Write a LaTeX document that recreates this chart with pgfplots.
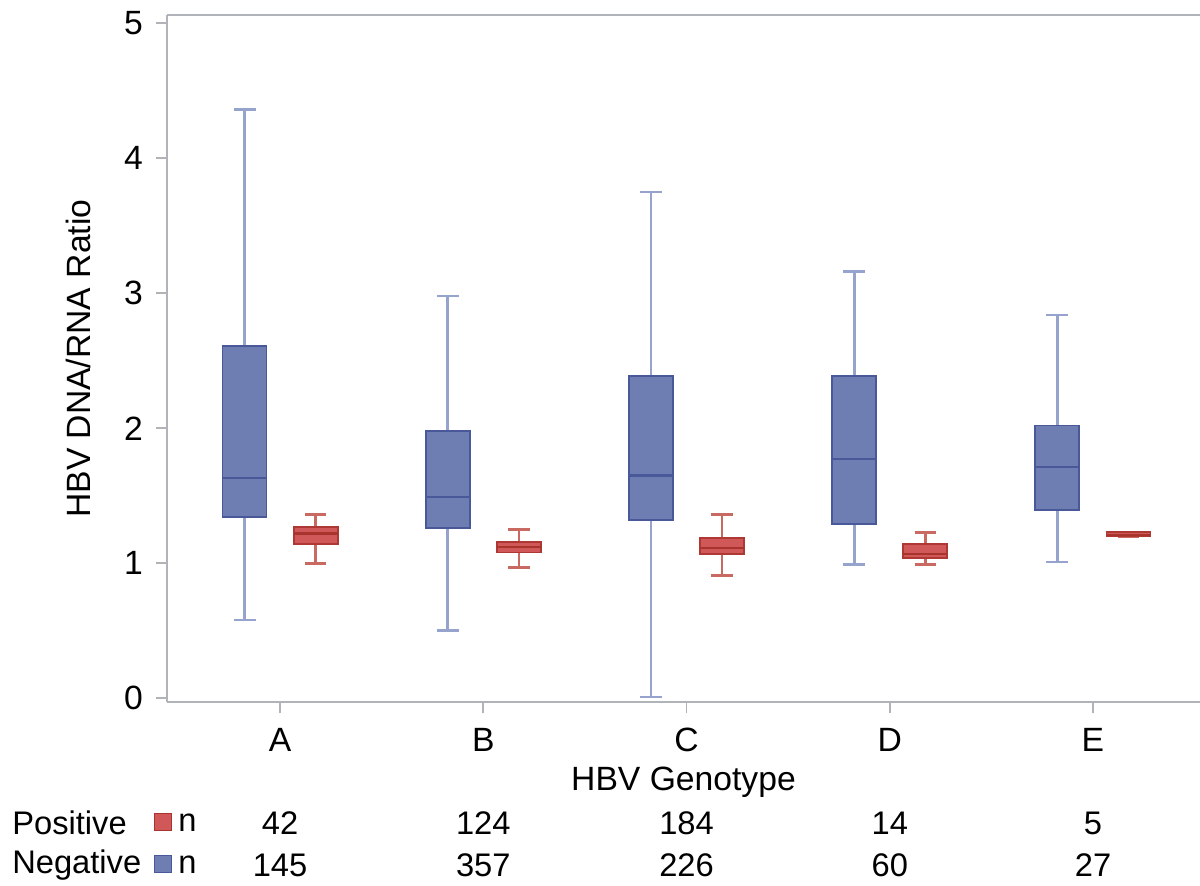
\documentclass[border=0pt]{standalone}
\usepackage{fontspec}
\setmainfont{Liberation Sans}
\usepackage{pgfplots}
\pgfplotsset{compat=1.18}
\usepgfplotslibrary{statistics}
\definecolor{bfill}{RGB}{111,126,178}
\definecolor{bborder}{RGB}{72,88,152}
\definecolor{bwhisk}{RGB}{150,164,205}
\definecolor{rfill}{RGB}{208,88,88}
\definecolor{rborder}{RGB}{168,52,46}
\definecolor{rwhisk}{RGB}{200,105,98}
\definecolor{axisgray}{RGB}{176,180,184}
\pgfplotsset{
  bluebox/.style={boxplot/draw direction=y,
    boxplot/every box/.style={draw=bborder, fill=bfill, line width=1.1pt},
    boxplot/every whisker/.style={draw=bwhisk, line width=1.6pt},
    boxplot/every median/.style={draw=bborder, line width=1.3pt}, mark=none},
  redbox/.style={boxplot/draw direction=y,
    boxplot/every box/.style={draw=rborder!85!rfill, fill=rfill, line width=1.1pt},
    boxplot/every whisker/.style={draw=rwhisk, line width=1.6pt},
    boxplot/every median/.style={draw=rborder, line width=1.3pt}, mark=none},
}
\newcommand{\chartfont}{\fontsize{20.2}{24}\selectfont}
\newcommand{\tablefont}{\fontsize{19.6}{24}\selectfont}
\begin{document}
\chartfont
\begin{tikzpicture}
\useasboundingbox (0pt,0pt) rectangle (720pt,531.6pt);
\begin{axis}[
  at={(100.2pt,110.22pt)}, anchor=south west,
  scale only axis, width=619.8pt, height=412.4pt,
  xmin=0.4433, xmax=5.527, ymin=-0.03, ymax=5.062,
  axis lines*=left,
  axis line style={draw=axisgray, line width=1pt, -},
  tick style={draw=axisgray, line width=1pt},
  tick align=outside, major tick length=6.6pt,
  xtick={1,2,3,4,5}, xticklabels={A,B,C,D,E},
  ytick={0,1,2,3,4,5},
  /pgf/number format/assume math mode=true,
  ticklabel style={font=\chartfont},
  xticklabel style={yshift=-2pt},
  yticklabel style={xshift=-1pt},
  label style={font=\chartfont},
  xlabel={HBV Genotype},
  ylabel={HBV DNA/RNA Ratio},
  xlabel style={yshift=4.5pt},
  ylabel style={yshift=6pt},
  clip=false,
]
% Negative (blue)
\addplot[bluebox, boxplot prepared={draw position=0.825, lower whisker=0.58, lower quartile=1.34, median=1.63, upper quartile=2.61, upper whisker=4.36, box extend=0.2165, whisker extend=0.108}] coordinates {};
\addplot[bluebox, boxplot prepared={draw position=1.825, lower whisker=0.50, lower quartile=1.26, median=1.49, upper quartile=1.98, upper whisker=2.98, box extend=0.2165, whisker extend=0.108}] coordinates {};
\addplot[bluebox, boxplot prepared={draw position=2.825, lower whisker=0.01, lower quartile=1.32, median=1.65, upper quartile=2.39, upper whisker=3.75, box extend=0.2165, whisker extend=0.108}] coordinates {};
\addplot[bluebox, boxplot prepared={draw position=3.825, lower whisker=0.99, lower quartile=1.29, median=1.775, upper quartile=2.39, upper whisker=3.16, box extend=0.2165, whisker extend=0.108}] coordinates {};
\addplot[bluebox, boxplot prepared={draw position=4.825, lower whisker=1.01, lower quartile=1.395, median=1.71, upper quartile=2.02, upper whisker=2.84, box extend=0.2165, whisker extend=0.108}] coordinates {};
% Positive (red)
\addplot[redbox, boxplot prepared={draw position=1.175, lower whisker=1.00, lower quartile=1.14, median=1.22, upper quartile=1.27, upper whisker=1.36, box extend=0.2165, whisker extend=0.105}] coordinates {};
\addplot[redbox, boxplot prepared={draw position=2.175, lower whisker=0.97, lower quartile=1.08, median=1.12, upper quartile=1.16, upper whisker=1.25, box extend=0.2165, whisker extend=0.105}] coordinates {};
\addplot[redbox, boxplot prepared={draw position=3.175, lower whisker=0.91, lower quartile=1.07, median=1.11, upper quartile=1.19, upper whisker=1.36, box extend=0.2165, whisker extend=0.105}] coordinates {};
\addplot[redbox, boxplot prepared={draw position=4.175, lower whisker=0.99, lower quartile=1.04, median=1.07, upper quartile=1.14, upper whisker=1.23, box extend=0.2165, whisker extend=0.105}] coordinates {};
\addplot[redbox, boxplot prepared={draw position=5.175, lower whisker=1.20, lower quartile=1.20, median=1.21, upper quartile=1.23, upper whisker=1.23, box extend=0.2165, whisker extend=0.105}] coordinates {};
\draw[axisgray, line width=1pt] (rel axis cs:0,1) -- (rel axis cs:1,1);
\end{axis}
\begin{scope}[x=0.6pt,y=0.6pt, every node/.style={font=\tablefont}]
\node[anchor=west, inner sep=0pt] at (12,886-823) {Positive};
\node[anchor=west, inner sep=0pt] at (12,886-865) {Negative};
\fill[rfill, draw=rborder, line width=0.6pt] (154,886-831) rectangle (171,886-814);
\fill[bfill, draw=bborder, line width=0.6pt] (154,886-873) rectangle (171,886-856);
\node[anchor=west, inner sep=0pt] at (178,886-823) {n};
\node[anchor=west, inner sep=0pt] at (178,886-865) {n};
\foreach \i/\p/\q in {0/42/145, 1/124/357, 2/184/226, 3/14/60, 4/5/27} {
  \node[inner sep=0pt] at ({280+203.25*\i},886-823) {\p};
  \node[inner sep=0pt] at ({280+203.25*\i},886-865) {\q};
}
\end{scope}
\end{tikzpicture}
\end{document}
